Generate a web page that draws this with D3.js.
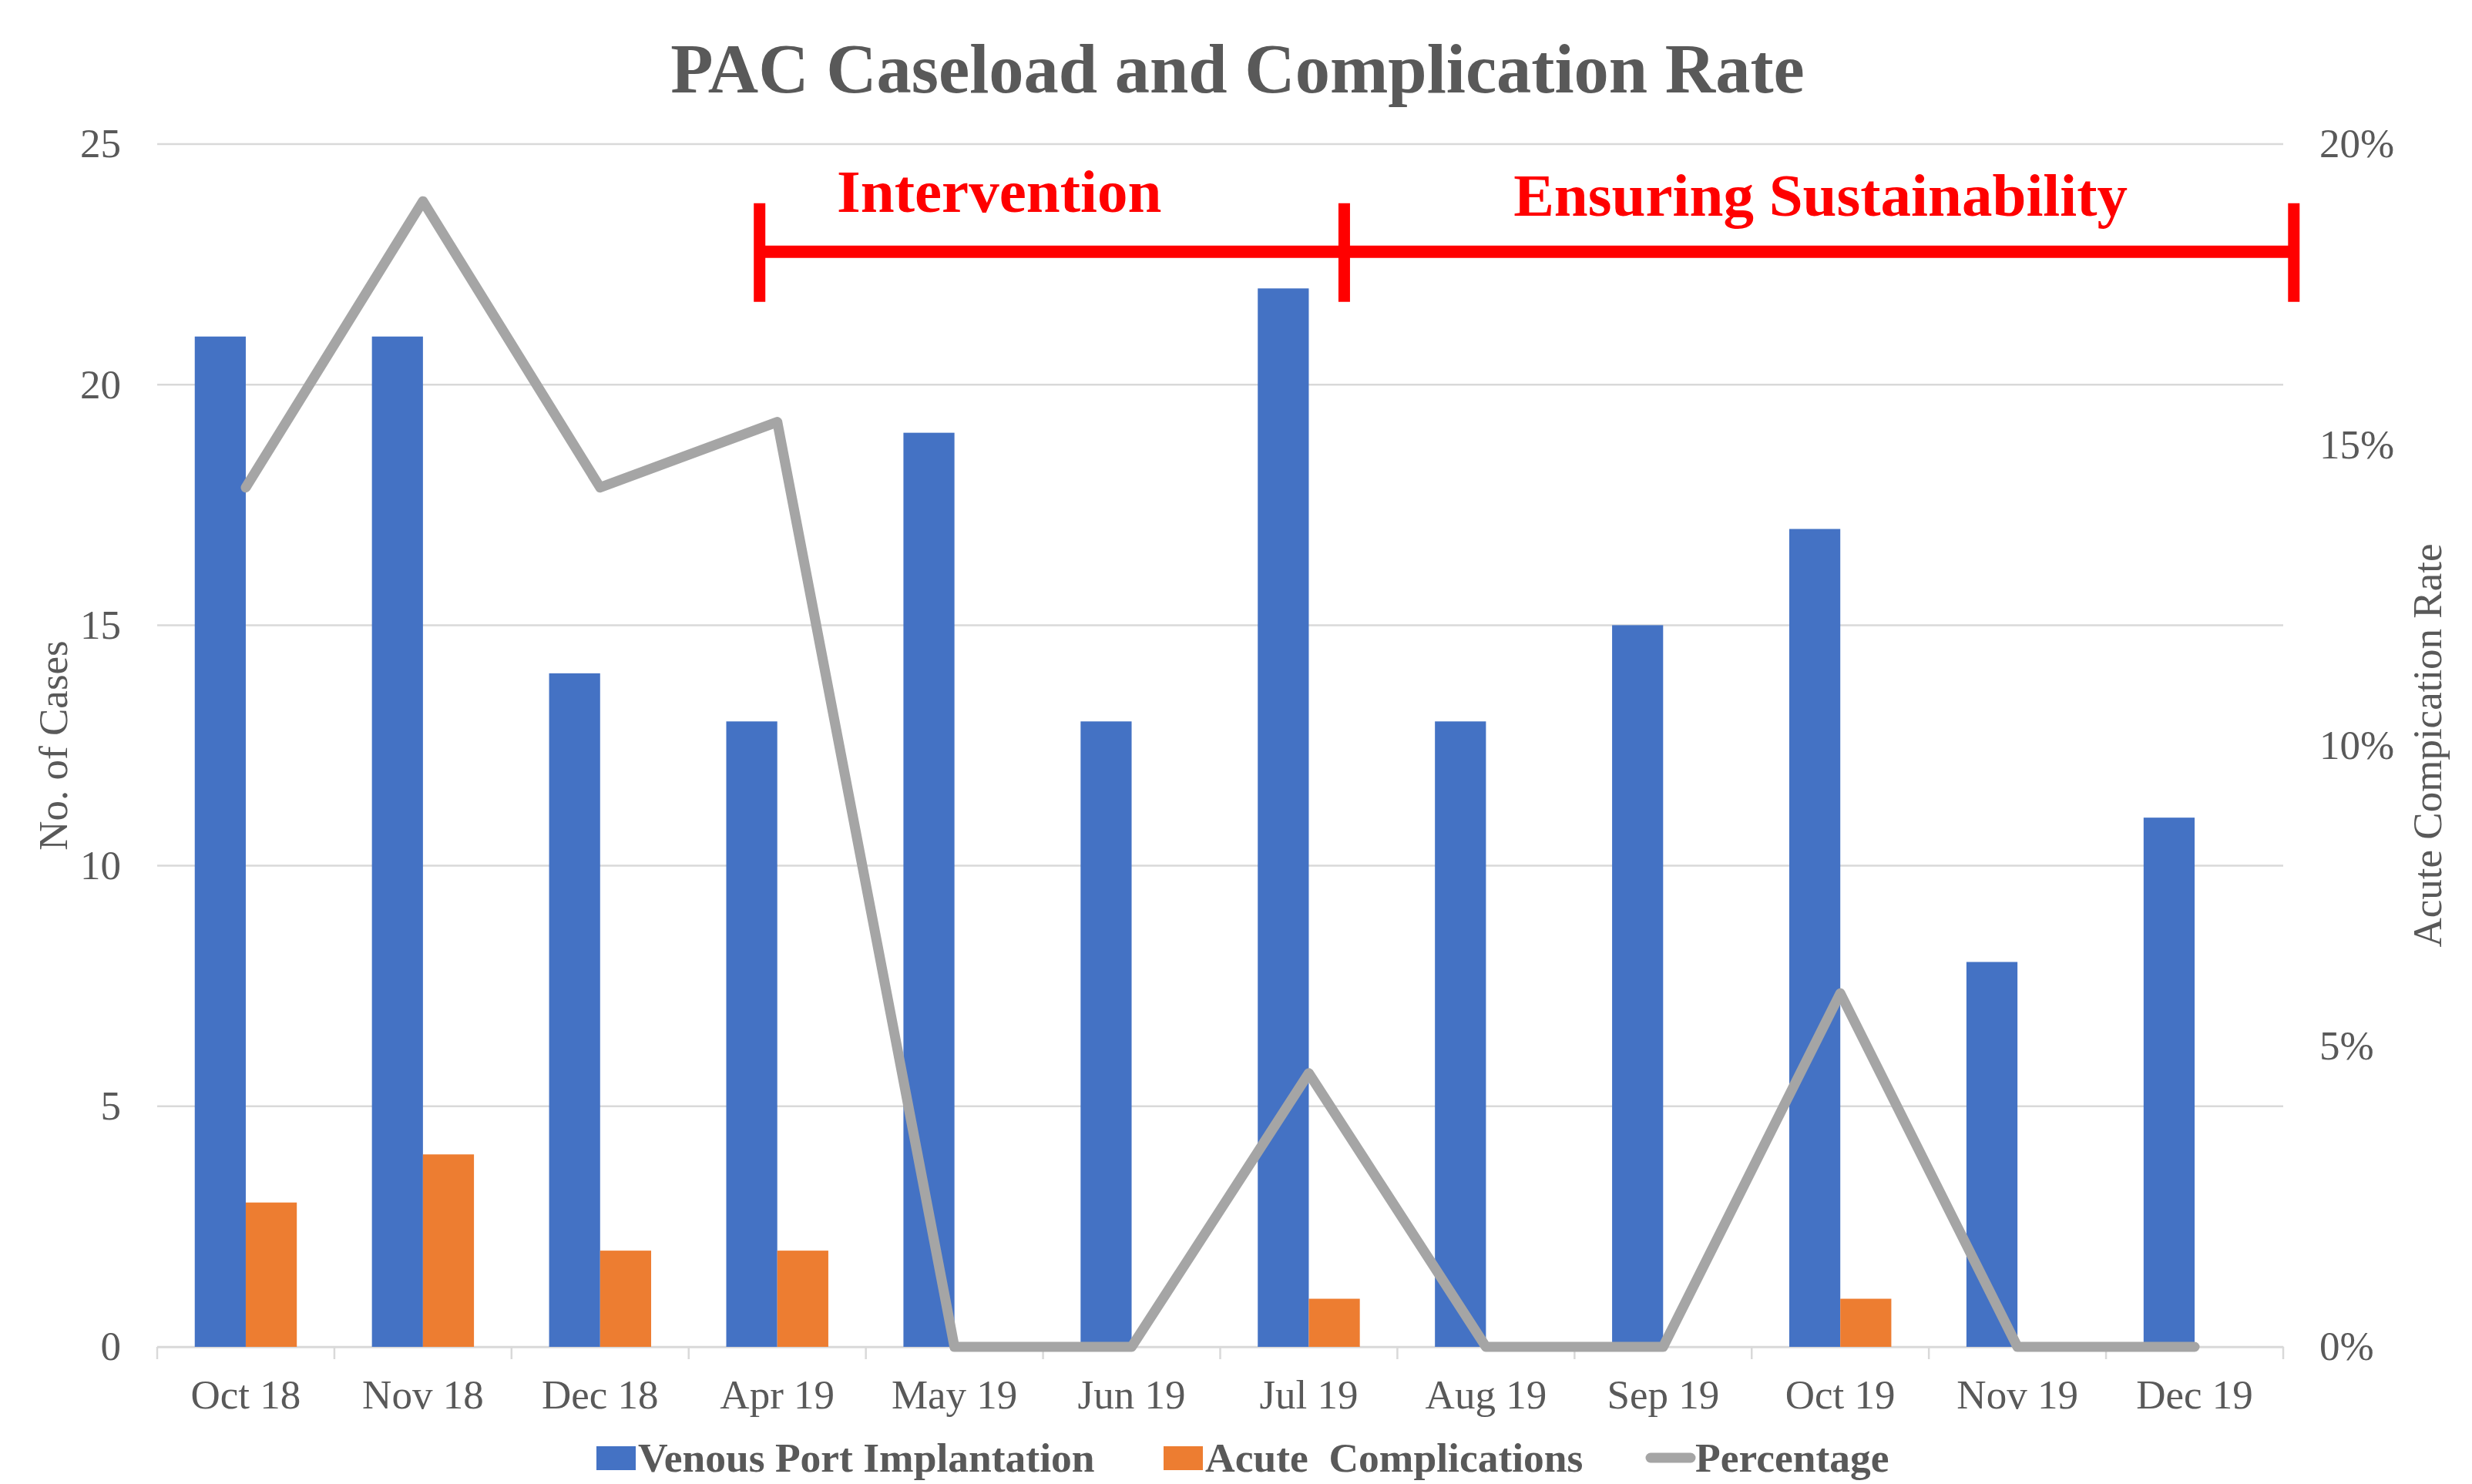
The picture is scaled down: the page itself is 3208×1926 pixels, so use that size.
<!DOCTYPE html>
<html><head><meta charset="utf-8">
<script src="https://cdn.jsdelivr.net/npm/d3@7"></script>
<style>
html,body{margin:0;padding:0;background:#fff;}
svg text{font-family:"Liberation Serif","Times New Roman",serif;}
</style></head>
<body>
<svg id="chart" width="3208" height="1926"></svg>
<script>
const categories = ["Oct 18","Nov 18","Dec 18","Apr 19","May 19","Jun 19","Jul 19","Aug 19","Sep 19","Oct 19","Nov 19","Dec 19"];
const venousPort = [21,21,14,13,19,13,22,13,15,17,8,11];
const acuteComplications = [3,4,2,2,0,0,1,0,0,1,0,0];
const percentage = [14.29,19.05,14.29,15.38,0,0,4.55,0,0,5.88,0,0];
const leftTicks = [0,5,10,15,20,25];
const rightTicks = [0,5,10,15,20];
const seriesNames = ["Venous Port Implantation","Acute  Complications","Percentage"];
// phase annotations in category-index units
const phases = [
  {label:"Intervention", start:2.9, end:6.2},
  {label:"Ensuring Sustainability", start:6.2, end:11.56}
];

const colors = {blue:"#4472C4", orange:"#ED7D31", gray:"#A5A5A5", text:"#595959", grid:"#D9D9D9", red:"#FF0000"};
const W=3208,H=1926;
const m={left:204,right:W-2963,top:187,bottom:H-1748};
const svg=d3.select("#chart");
const iw=W-m.left-m.right, ih=H-m.top-m.bottom;
const g=svg.append("g").attr("transform",`translate(${m.left},${m.top})`);

const x=d3.scaleBand().domain(categories).range([0,iw]);
const xi=d3.scaleLinear().domain([-0.5,categories.length-0.5]).range([0,iw]);
const yL=d3.scaleLinear().domain([0,25]).range([ih,0]);
const yR=d3.scaleLinear().domain([0,20]).range([ih,0]);
const barW=x.bandwidth()*0.288;

// gridlines
g.append("g").selectAll("line").data(leftTicks).join("line")
  .attr("x1",0).attr("x2",iw).attr("y1",d=>yL(d)).attr("y2",d=>yL(d))
  .attr("stroke",colors.grid).attr("stroke-width",2.5);

// x axis
const xAxis=g.append("g").attr("transform",`translate(0,${ih})`)
  .call(d3.axisBottom(x).tickSize(0).tickPadding(0));
xAxis.select(".domain").attr("stroke",colors.grid).attr("stroke-width",2.5);
xAxis.selectAll("text").attr("font-size",53).attr("fill",colors.text).attr("dy","1.5em")
  .style("font-family","'Liberation Serif',serif");
g.append("g").selectAll("line").data(d3.range(categories.length+1)).join("line")
  .attr("x1",d=>xi(d-0.5)).attr("x2",d=>xi(d-0.5)).attr("y1",ih).attr("y2",ih+16)
  .attr("stroke",colors.grid).attr("stroke-width",2.5);

// left axis
const yAxisL=g.append("g").call(d3.axisLeft(yL).tickValues(leftTicks).tickSize(0).tickPadding(47));
yAxisL.select(".domain").remove();
yAxisL.selectAll("text").attr("font-size",53).attr("fill",colors.text).style("font-family","'Liberation Serif',serif");
// right axis
const yAxisR=g.append("g").attr("transform",`translate(${iw},0)`)
  .call(d3.axisRight(yR).tickValues(rightTicks).tickSize(0).tickPadding(47).tickFormat(d=>d+"%"));
yAxisR.select(".domain").remove();
yAxisR.selectAll("text").attr("font-size",53).attr("fill",colors.text).style("font-family","'Liberation Serif',serif");

// bars
g.append("g").selectAll("rect").data(venousPort).join("rect")
  .attr("x",(d,i)=>x(categories[i])+x.bandwidth()/2-barW).attr("width",barW)
  .attr("y",d=>yL(d)).attr("height",d=>ih-yL(d)).attr("fill",colors.blue);
g.append("g").selectAll("rect").data(acuteComplications).join("rect")
  .attr("x",(d,i)=>x(categories[i])+x.bandwidth()/2).attr("width",barW)
  .attr("y",d=>yL(d)).attr("height",d=>ih-yL(d)).attr("fill",colors.orange);

// line
const line=d3.line().x((d,i)=>x(categories[i])+x.bandwidth()/2).y(d=>yR(d));
g.append("path").datum(percentage).attr("d",line).attr("fill","none")
  .attr("stroke",colors.gray).attr("stroke-width",13).attr("stroke-linejoin","round").attr("stroke-linecap","round");

// phase brackets
const bracketY=yL(22.76), tickTop=yL(23.77), tickBot=yL(21.72);
const ph=g.append("g");
ph.append("line").attr("x1",xi(phases[0].start)).attr("x2",xi(phases[phases.length-1].end))
  .attr("y1",bracketY).attr("y2",bracketY).attr("stroke",colors.red).attr("stroke-width",16);
const tickPos=[phases[0].start,...phases.map(p=>p.end)];
ph.selectAll("line.t").data(tickPos).join("line").attr("class","t")
  .attr("x1",d=>xi(d)).attr("x2",d=>xi(d)).attr("y1",tickTop).attr("y2",tickBot)
  .attr("stroke",colors.red).attr("stroke-width",15);
ph.selectAll("text").data(phases).join("text")
  .attr("x",(d,i)=>i===0?xi(d.start)+311:xi((d.start+d.end)/2)+2)
  .attr("y",(d,i)=>i===0?yL(23.59):yL(23.51))
  .attr("text-anchor","middle").attr("font-size",79).attr("font-weight","bold").attr("fill",colors.red)
  .text(d=>d.label);

// title
svg.append("text").attr("x",1606).attr("y",120).attr("text-anchor","middle")
  .attr("font-size",90.5).attr("font-weight","bold").attr("fill",colors.text)
  .text("PAC Caseload and Complication Rate");

// axis titles
svg.append("text").attr("transform",`translate(87,${m.top+ih/2}) rotate(-90)`).attr("text-anchor","middle")
  .attr("font-size",53).attr("fill",colors.text).text("No. of Cases");
svg.append("text").attr("transform",`translate(3168,${m.top+ih/2}) rotate(-90)`).attr("text-anchor","middle")
  .attr("font-size",53).attr("fill",colors.text).text("Acute Compication Rate");

// legend
const leg=svg.append("g").attr("transform","translate(0,1910)");
const legItems=[
  {name:seriesNames[0],color:colors.blue,type:"rect",x:774},
  {name:seriesNames[1],color:colors.orange,type:"rect",x:1510},
  {name:seriesNames[2],color:colors.gray,type:"line",x:2136}
];
legItems.forEach(it=>{
  if(it.type==="rect"){
    leg.append("rect").attr("x",it.x).attr("y",-33).attr("width",51).attr("height",31).attr("fill",it.color);
  } else {
    leg.append("line").attr("x1",it.x+6).attr("x2",it.x+58).attr("y1",-18).attr("y2",-18)
      .attr("stroke",it.color).attr("stroke-width",13).attr("stroke-linecap","round");
  }
  leg.append("text").attr("x",it.x+(it.type==="rect"?54:64)).attr("y",0).attr("font-size",53.5).attr("font-weight","bold")
    .attr("fill",colors.text).attr("xml:space","preserve").style("white-space","pre").text(it.name);
});
</script>
</body></html>
